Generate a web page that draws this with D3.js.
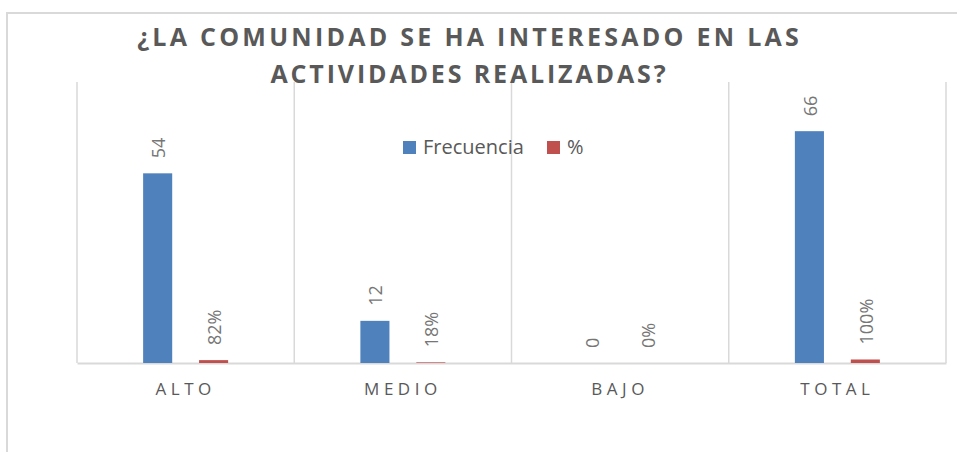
<!DOCTYPE html>
<html>
<head>
<meta charset="utf-8">
<script src="https://cdn.jsdelivr.net/npm/d3@7"></script>
<style>
  html, body { margin: 0; padding: 0; background: #ffffff; }
  svg { display: block; }
  text { font-family: "Open Sans", "Noto Sans", sans-serif; }
</style>
</head>
<body>
<div id="chart"></div>
<script>
// ---- data ----
const titleLines = ["¿LA COMUNIDAD SE HA INTERESADO EN LAS", "ACTIVIDADES REALIZADAS?"];
const categories = ["ALTO", "MEDIO", "BAJO", "TOTAL"];
const seriesNames = ["Frecuencia", "%"];
const frecuencia = [54, 12, 0, 66];
const porcentaje = [0.82, 0.18, 0, 1.00];
const seriesColors = ["#4f81bd", "#c0504d"];

// ---- layout ----
const W = 957, H = 452;
const plot = { left: 77, right: 946, top: 82, bottom: 363 };
const textColor = "#595959";
const labelColor = "#767676";
const gridColor = "#d9d9d9";
const titleWidths = [665, 398];

const svg = d3.select("#chart").append("svg").attr("width", W).attr("height", H);

// chart border (extends beyond the visible frame on right and bottom)
svg.append("rect")
  .attr("x", 7).attr("y", 13)
  .attr("width", W + 50).attr("height", H + 50)
  .attr("fill", "none").attr("stroke", gridColor).attr("stroke-width", 2);

const x0 = d3.scaleBand().domain(categories).range([plot.left, plot.right]).padding(0);
const x1 = d3.scaleBand().domain(seriesNames).range([-42.5, 42.5]).paddingInner(0.48);
const y = d3.scaleLinear().domain([0, 80]).range([plot.bottom, plot.top]);

// vertical gridlines at category boundaries
const bounds = categories.map(c => x0(c)).concat([x0(categories[categories.length - 1]) + x0.bandwidth()]);
svg.append("g").selectAll("line").data(bounds).join("line")
  .attr("x1", d => d).attr("x2", d => d)
  .attr("y1", y(80)).attr("y2", y(0))
  .attr("stroke", gridColor).attr("stroke-width", 1.5);

// category axis
const xAxis = d3.axisBottom(x0).tickSize(0).tickPadding(20);
const gx = svg.append("g").attr("transform", `translate(0,${y(0)})`).call(xAxis);
gx.select(".domain").attr("stroke", gridColor).attr("stroke-width", 2);
gx.selectAll("text")
  .attr("fill", textColor)
  .style("font-family", '"Open Sans", sans-serif')
  .style("font-size", "17px")
  .style("letter-spacing", "4.5px");

// data rows
const rows = categories.map((c, i) => ({ cat: c, vals: [frecuencia[i], porcentaje[i]] }));
const fmtPct = d3.format(".0%");

const groups = svg.append("g").selectAll("g").data(rows).join("g")
  .attr("transform", d => `translate(${x0(d.cat) + x0.bandwidth() / 2},0)`);

groups.selectAll("rect")
  .data(d => d.vals.map((v, j) => ({ s: seriesNames[j], v, j })))
  .join("rect")
  .attr("x", d => x1(d.s))
  .attr("width", x1.bandwidth())
  .attr("y", d => y(d.v))
  .attr("height", d => y(0) - y(d.v))
  .attr("fill", d => seriesColors[d.j]);

groups.selectAll("text.lbl")
  .data(d => d.vals.map((v, j) => ({ s: seriesNames[j], v, j })))
  .join("text")
  .attr("class", "lbl")
  .attr("transform", d => `translate(${x1(d.s) + x1.bandwidth() / 2 + 1},${y(d.v) - 15}) rotate(-90)`)
  .attr("text-anchor", "start")
  .attr("dy", "0.35em")
  .attr("fill", labelColor)
  .style("font-size", "18px")
  .text(d => d.j === 0 ? d3.format("d")(d.v) : fmtPct(d.v));

// title
const title = svg.append("g");
title.selectAll("text").data(titleLines).join("text")
  .attr("x", 468)
  .attr("y", (d, i) => 46 + i * 37)
  .attr("text-anchor", "middle")
  .attr("fill", textColor)
  .style("font-size", "25px")
  .style("font-weight", "bold")
  .text(d => d)
  .each(function (d, i) {
    const len = this.getComputedTextLength();
    const ls = (titleWidths[i] - len) / d.length;
    d3.select(this).style("letter-spacing", ls + "px").attr("dx", ls / 2);
  });

// legend
const legend = svg.append("g").attr("transform", "translate(403,147)");
const legX = [0, 144];
const li = legend.selectAll("g").data(seriesNames).join("g")
  .attr("transform", (d, i) => `translate(${legX[i]},0)`);
li.append("rect")
  .attr("x", 0).attr("y", -6).attr("width", 13).attr("height", 13)
  .attr("fill", (d, i) => seriesColors[i]);
li.append("text")
  .attr("x", 20).attr("dy", "0.35em")
  .attr("fill", textColor)
  .style("font-size", "20px")
  .text(d => d);
</script>
</body>
</html>
